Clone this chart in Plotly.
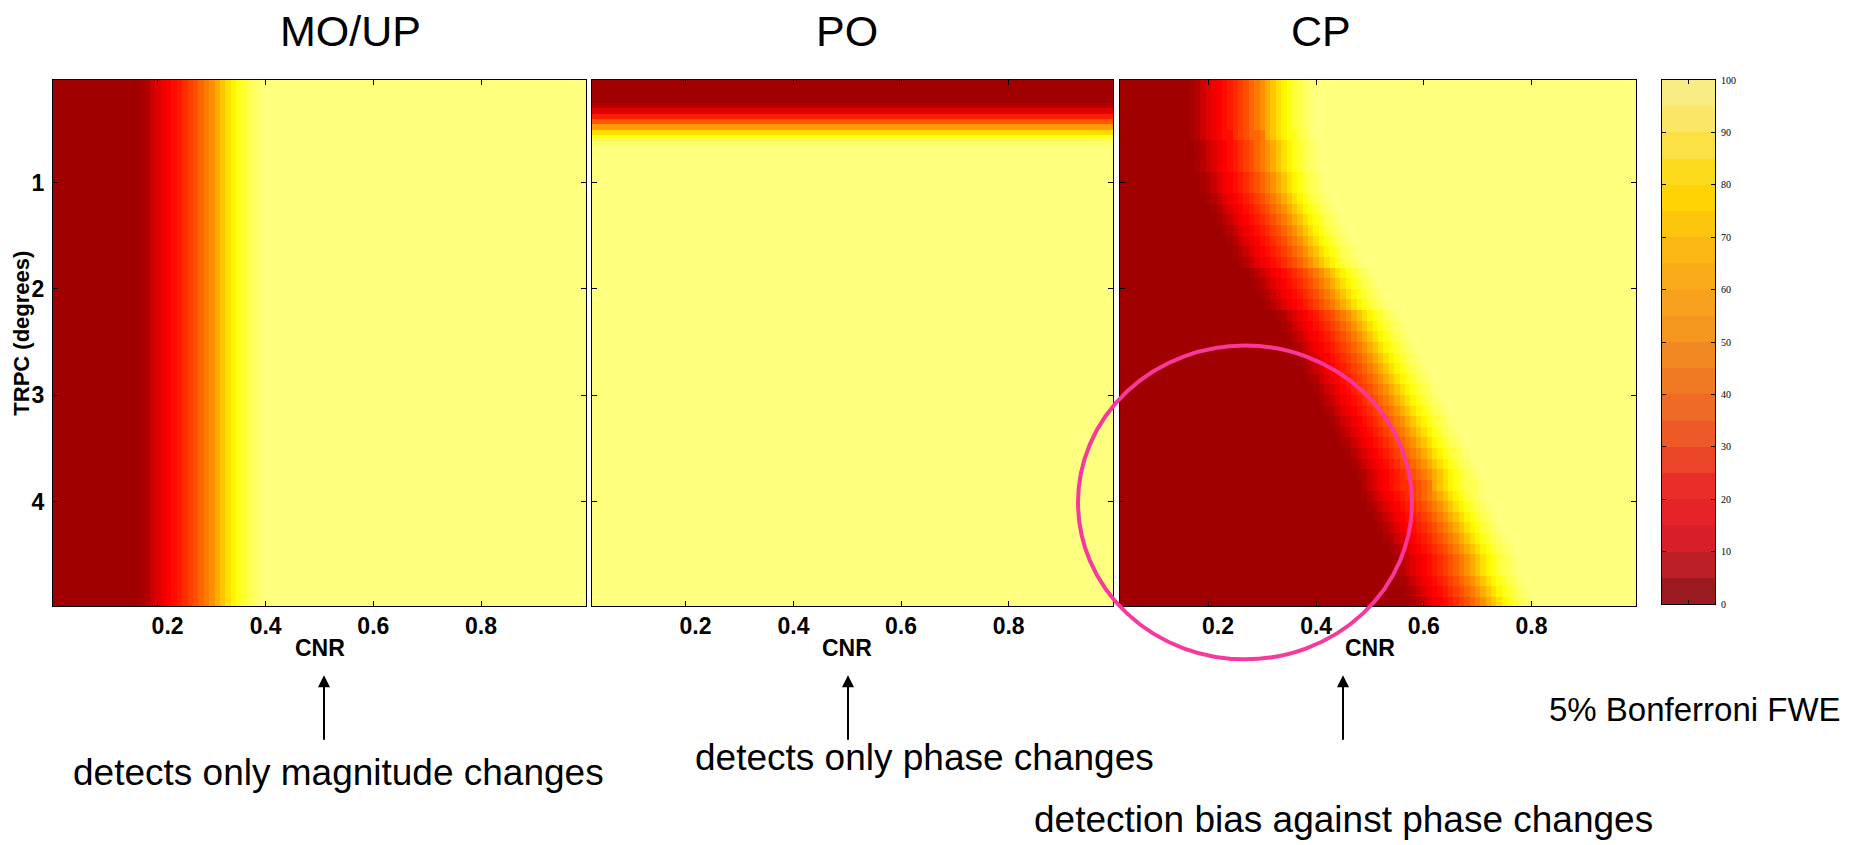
import numpy as np
import plotly.graph_objects as go

W, H = 1870, 845

# ---- grid coordinates -------------------------------------------------------
cnr_centers = np.round(np.arange(1, 100) * 0.01, 2)           # CNR columns
trpc_fine = np.round(0.025 + 0.05 * np.arange(100), 3)       # TRPC rows (PO)
trpc_rows = np.round(0.05 + 0.10 * np.arange(50), 2)         # TRPC rows (CP)

# ---- detection rates (%) ----------------------------------------------------
# MO/UP: depends on CNR only; 0 % below the onset, ramp, then 100 %
moup_onset = 0.17
moup_ramp = [2, 5, 10, 15, 19, 22, 25, 28, 32, 36, 40, 45, 50, 55, 61, 67,
             73, 78, 83, 88, 92, 95, 98]

# PO: depends on TRPC only
po_onset = 0.275
po_ramp = [5, 15, 28, 42, 57, 72, 86, 96]

# CP: the CNR at which detection starts moves right as TRPC grows
cp_onset = [0.172, 0.172, 0.172, 0.173, 0.174, 0.175, 0.177, 0.179, 0.182, 0.186,
            0.191, 0.198, 0.206, 0.216, 0.227, 0.239, 0.251, 0.264, 0.277, 0.290,
            0.302, 0.314, 0.326, 0.338, 0.349, 0.360, 0.370, 0.380, 0.390, 0.400,
            0.410, 0.419, 0.429, 0.439, 0.448, 0.458, 0.467, 0.476, 0.485, 0.494,
            0.503, 0.512, 0.520, 0.529, 0.537, 0.546, 0.554, 0.562, 0.570, 0.578]

# colour bar bands (0-5, 5-10, ... 95-100)
band_colors = ["#9b1a1f", "#be1f27", "#d81e28", "#e52329", "#e92d29", "#ec4428",
               "#ee5a27", "#ef6a25", "#f07a24", "#f28822", "#f59620", "#f7a11d",
               "#f9ab19", "#fbb814", "#fdc50c", "#fed403", "#fcda1c", "#fbe144",
               "#fae766", "#f8ed84"]
band_ticks = list(range(0, 101, 10))

heat_scale = [[0.0, "rgb(160,0,0)"], [0.22, "rgb(255,0,0)"],
              [0.80, "rgb(255,255,0)"], [1.0, "rgb(255,255,128)"]]


def rate(pos, onset, ramp, step):
    k = int(round((pos - onset) / step))
    if k < 0:
        return 0
    if k < len(ramp):
        return ramp[k]
    return 100


moup_row = [rate(c, moup_onset, moup_ramp, 0.01) for c in cnr_centers]
z_moup = [moup_row, moup_row]

z_po = [[rate(t, po_onset, po_ramp, 0.05)] * 2 for t in trpc_fine]

z_cp = [[rate(c, o, moup_ramp, 0.01) for c in cnr_centers] for o in cp_onset]

band_mid = [2.5 + 5 * i for i in range(len(band_colors))]
band_scale = []
for i, col in enumerate(band_colors):
    band_scale.append([i / len(band_colors), col])
    band_scale.append([(i + 1) / len(band_colors), col])

fig = go.Figure()
common = dict(colorscale=heat_scale, zmin=0, zmax=100, showscale=False, hoverinfo="skip")
fig.add_trace(go.Heatmap(x=cnr_centers, y=[1.25, 3.75], z=z_moup, xaxis="x", yaxis="y", **common))
fig.add_trace(go.Heatmap(x=[0.25, 0.75], y=trpc_fine, z=z_po, xaxis="x2", yaxis="y2", **common))
fig.add_trace(go.Heatmap(x=cnr_centers, y=trpc_rows, z=z_cp, xaxis="x3", yaxis="y3", **common))
fig.add_trace(go.Heatmap(x=[0.5], y=band_mid, z=[[v] for v in band_mid], colorscale=band_scale,
                         zmin=0, zmax=100, showscale=False, hoverinfo="skip",
                         xaxis="x4", yaxis="y4"))


def px(x):
    return x / W


def py(y):
    return 1 - y / H


ydom = [py(609), py(76)]
tick_font = dict(family="Liberation Sans, Arial, sans-serif", size=23, color="black", weight="bold")
frame = dict(showline=True, linecolor="black", linewidth=1, mirror="ticks", ticks="inside",
             ticklen=5, tickcolor="black", showgrid=False, zeroline=False)

xticks = [0.2, 0.4, 0.6, 0.8]
# the first label sits a little right of its tick
xtick_text = ["\u2007\u20080.2", "0.4", "0.6", "0.8"]
yticks = [1, 2, 3, 4]
trpc_range = [4.984, 0.034]


def cnr_axis(dom, rng, anchor):
    return dict(domain=dom, range=rng, tickvals=xticks, ticktext=xtick_text,
                tickfont=tick_font, ticklabelstandoff=-1, anchor=anchor, **frame)


layout = dict(
    width=W, height=H, margin=dict(l=0, r=0, t=0, b=0),
    paper_bgcolor="white", plot_bgcolor="white", showlegend=False,
    xaxis=cnr_axis([px(53), px(586)], [0.005, 0.995], "y"),
    xaxis2=cnr_axis([px(592), px(1113)], [0.0255, 0.994], "y2"),
    xaxis3=cnr_axis([px(1120), px(1636)], [0.0357, 0.994], "y3"),
    yaxis=dict(domain=ydom, range=trpc_range, tickvals=yticks, ticktext=[str(v) for v in yticks],
               tickfont=tick_font, ticklabelstandoff=3, anchor="x", **frame),
    yaxis2=dict(domain=ydom, range=trpc_range, tickvals=yticks, showticklabels=False,
                anchor="x2", **frame),
    yaxis3=dict(domain=ydom, range=trpc_range, tickvals=yticks, showticklabels=False,
                anchor="x3", **frame),
    xaxis4=dict(domain=[px(1662), px(1715)], range=[0, 1], tickvals=[0.5], showticklabels=False,
                anchor="y4", **{**frame, "ticklen": 4}),
    yaxis4=dict(domain=[py(607), py(76)], range=[0, 100], tickvals=band_ticks,
                ticktext=[str(v) for v in band_ticks], side="right", anchor="x4",
                tickfont=dict(family="Liberation Serif, Times New Roman, serif", size=10, color="black"),
                ticklabelstandoff=3, **{**frame, "ticklen": 4}),
)
fig.update_layout(**layout)

sans = "Liberation Sans, Arial, sans-serif"
ann = []
# panel titles
for txt, cx in [("MO/UP", 350), ("PO", 847), ("CP", 1321)]:
    ann.append(dict(text=txt, x=px(cx), y=py(26), xref="paper", yref="paper",
                    showarrow=False, xanchor="center", yanchor="middle",
                    font=dict(family=sans, size=43, color="black")))
# CNR axis labels
for xr in ["x", "x2", "x3"]:
    ann.append(dict(text="CNR", x=0.5, y=py(651), xref=xr, yref="paper", showarrow=False,
                    xanchor="center", yanchor="middle",
                    font=dict(family=sans, size=23, color="black", weight="bold")))
# TRPC label
ann.append(dict(text="TRPC (degrees)", x=px(22), y=py(333), xref="paper", yref="paper",
                showarrow=False, textangle=-90, xanchor="center", yanchor="middle",
                font=dict(family=sans, size=22, color="black", weight="bold")))
# arrows
for ax_x in [324, 848, 1343]:
    ann.append(dict(text="", x=px(ax_x), y=py(679), xref="paper", yref="paper",
                    showarrow=True, ax=0, ay=66, arrowhead=2, arrowsize=1.2,
                    arrowwidth=2, arrowcolor="black"))
# notes
notes = [("detects only magnitude changes", 338, 778, 37),
         ("detects only phase changes", 924, 762, 37),
         ("detection bias against phase changes", 1343, 825, 37),
         ("5% Bonferroni FWE", 1695, 714, 33)]
for txt, cx, cy, fs in notes:
    ann.append(dict(text=txt, x=px(cx), y=py(cy), xref="paper", yref="paper",
                    showarrow=False, xanchor="center", yanchor="middle",
                    font=dict(family=sans, size=fs, color="black")))
fig.update_layout(annotations=ann)

# highlight ring
fig.add_shape(type="circle", xref="paper", yref="paper",
              x0=px(1078), x1=px(1412), y0=py(663), y1=py(345),
              line=dict(color="#f8399b", width=4), layer="above")

fig.write_html("out.html")
